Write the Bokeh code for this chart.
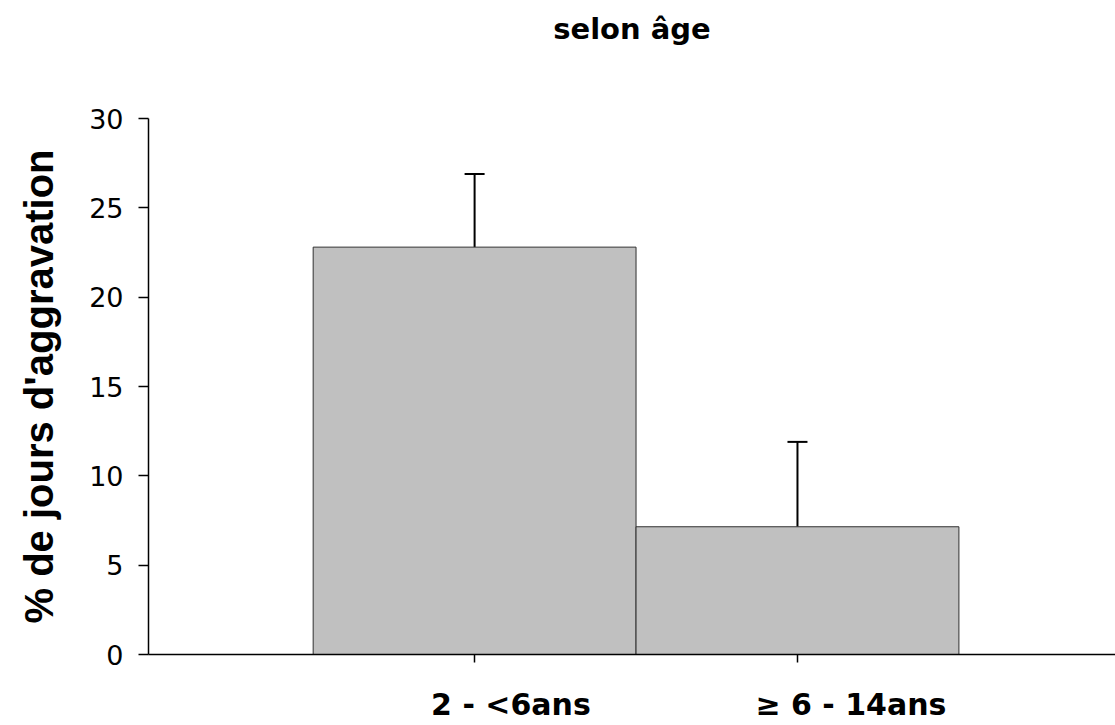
from bokeh.plotting import figure
from bokeh.models import Range1d, ColumnDataSource, Whisker, TeeHead, FixedTicker, LinearAxis, Title
from bokeh.embed import file_html
from bokeh.resources import INLINE

# ---- data ----
groups = ["2 - <6ans", "\u2265 6 - 14ans"]
positions = [1, 2]
means = [22.8, 7.15]
upper = [26.9, 11.9]
title_text = "selon âge"
y_label = "% de jours d'aggravation"
y_ticks = [0, 5, 10, 15, 20, 25, 30]

src = ColumnDataSource(dict(x=positions, top=means, upper=upper))

p = figure(width=1115, height=725, output_backend="svg", toolbar_location=None, title=None,
           x_range=Range1d(-0.01, 2.985), y_range=Range1d(0, 30),
           min_border_left=148, min_border_right=0, min_border_top=118, min_border_bottom=71)
p.outline_line_color = None
p.grid.visible = False
p.background_fill_color = "white"
p.border_fill_color = "white"

xa = p.below[0]
ya = p.left[0]

p.vbar(x="x", top="top", bottom=0, width=1.0, source=src,
       fill_color="#c0c0c0", line_color="#303030", line_width=1)

w = Whisker(base="x", upper="upper", lower="top", source=src,
            line_color="black", line_width=2,
            upper_head=TeeHead(size=20, line_color="black", line_width=2),
            lower_head=None)
p.add_layout(w)

# spacer above the frame (invisible, pushes the title up)
spacer = LinearAxis(ticker=FixedTicker(ticks=positions), major_tick_out=66, major_tick_in=0,
                    major_label_standoff=0, axis_line_color=None,
                    major_tick_line_color=None, minor_tick_line_color=None,
                    major_label_text_color=None, major_label_text_font_size="1px")
p.add_layout(spacer, "above")

# title
title = Title(text=title_text, align="center", text_font="DejaVu Sans",
              text_font_style="bold", text_font_size="29px", text_color="black",
              standoff=14)
p.add_layout(title, "above")

# y axis
ya.ticker = FixedTicker(ticks=y_ticks)
ya.axis_label = y_label
ya.axis_label_text_font = "Liberation Sans"
ya.axis_label_text_font_style = "bold"
ya.axis_label_text_font_size = "40px"
ya.axis_label_text_color = "black"
ya.axis_label_standoff = 25
ya.major_label_text_font = "DejaVu Sans"
ya.major_label_text_font_size = "27px"
ya.major_label_text_color = "black"
ya.major_label_standoff = 15
ya.major_tick_out = 10
ya.major_tick_in = 0
ya.minor_tick_line_color = None
ya.axis_line_width = 1.5
ya.major_tick_line_width = 1.5
ya.axis_line_color = "black"
ya.major_tick_line_color = "black"

# x axis (line + ticks)
xa.ticker = FixedTicker(ticks=positions)
xa.major_label_text_color = None
xa.major_label_text_font_size = "1px"
xa.major_label_standoff = 0
xa.major_tick_out = 8
xa.major_tick_in = 0
xa.minor_tick_line_color = None
xa.axis_line_width = 1.5
xa.major_tick_line_width = 1.5
xa.axis_line_color = "black"
xa.major_tick_line_color = "black"

# category labels (placed like the reference, left part under each tick)
p.extra_x_ranges = {"lab": Range1d(-0.066, 2.778)}
lab = LinearAxis(x_range_name="lab", ticker=FixedTicker(ticks=positions),
                 major_label_overrides={positions[i]: groups[i] for i in range(len(groups))},
                 axis_line_color=None, major_tick_line_color=None, minor_tick_line_color=None,
                 major_tick_out=0, major_tick_in=0, major_label_standoff=24,
                 major_label_text_font="DejaVu Sans", major_label_text_font_style="bold",
                 major_label_text_font_size="30px", major_label_text_color="black")
p.add_layout(lab, "below")

open("out.html", "w").write(file_html(p, INLINE))
